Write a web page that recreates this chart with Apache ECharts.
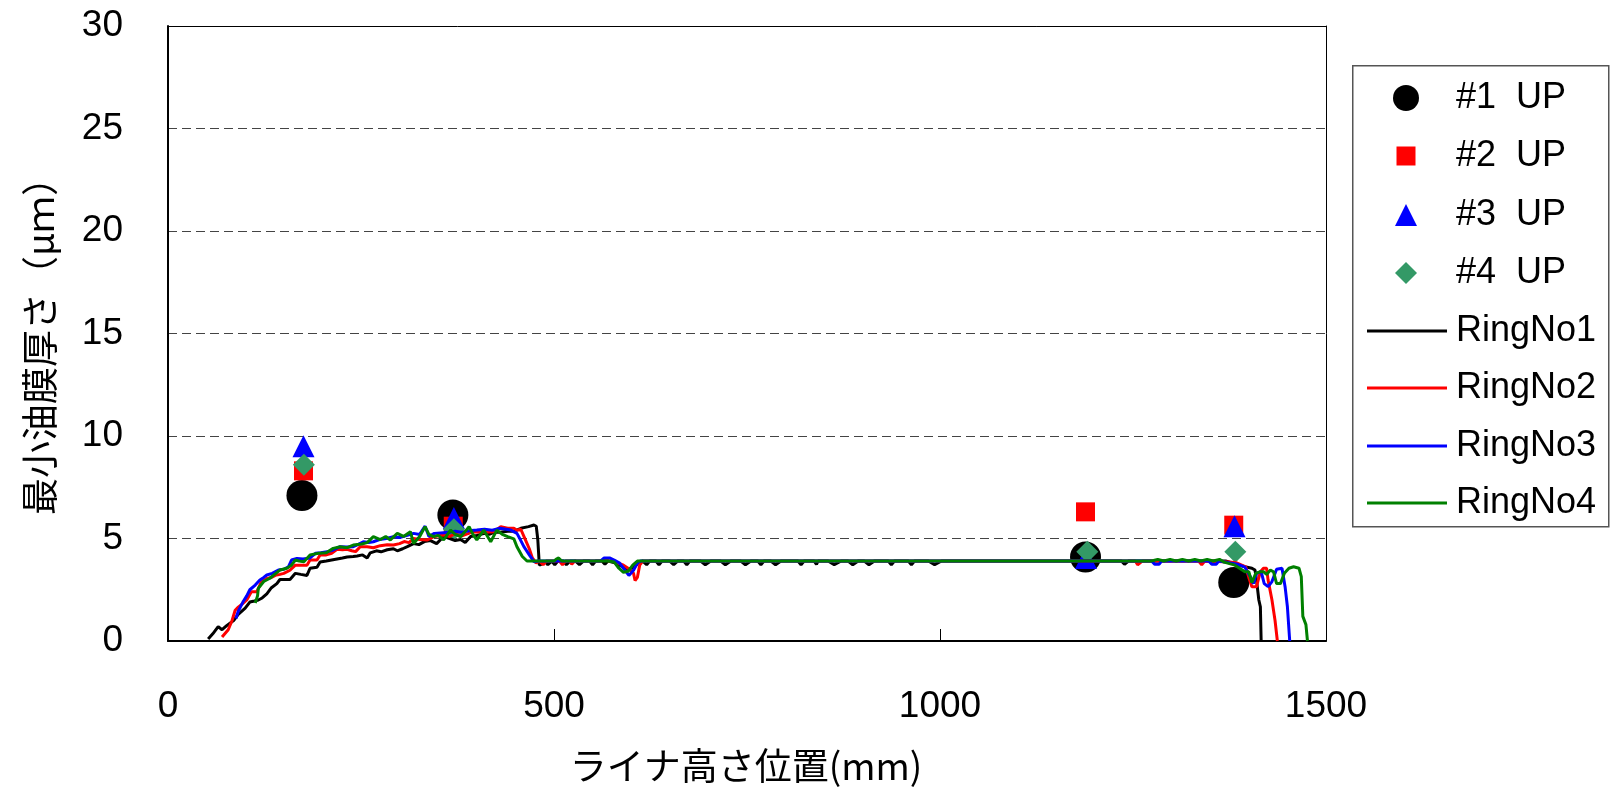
<!DOCTYPE html>
<html>
<head>
<meta charset="utf-8">
<script src="https://cdn.jsdelivr.net/npm/echarts@6/dist/echarts.min.js"></script>
<style>
  html, body { margin: 0; padding: 0; background: #fff; }
  #chart { width: 1610px; height: 788px; }
</style>
</head>
<body>
<div id="chart"></div>
<script>
// Axis ranges
const xRange = { min: 0, max: 1500, step: 500 };
const yRange = { min: 0, max: 30, step: 5 };

const xTitle = 'ライナ高さ位置(mm)';
const yTitle = '最小油膜厚さ（μｍ）';

// Measured points, liner height (mm) vs minimum film thickness (μm)
const up1 = [[173.5, 7.1], [369, 6.15], [1188.5, 4.1], [1380.5, 2.85]];
const up2 = [[175.5, 8.3], [369.5, 5.6], [1188.5, 6.3], [1380.5, 5.65]];
const up3 = [[175.5, 9.5], [370.3, 6.0], [1189, 4.05], [1381.5, 5.6]];
const up4 = [[176, 8.6], [370.3, 5.45], [1190.8, 4.35], [1382.5, 4.35]];

// Calculated traces per ring
const ring1 = [
  [52,0.1],[58,0.35],[65,0.7],[70,0.55],[76,0.75],[85,1.0],[91,1.3],[100,1.6],[106,1.9],[112,1.95],
  [117,2.0],[122,2.1],[128,2.3],[134,2.6],[141,2.8],[145,3.0],[152,3.0],[158,3.0],[165,3.3],[172,3.25],
  [180,3.2],[184,3.55],[193,3.6],[197,3.85],[205,3.9],[212,3.95],[219,4.0],[226,4.05],[232,4.1],[240,4.12],
  [245,4.15],[252,4.2],[258,4.05],[262,4.3],[270,4.4],[276,4.35],[284,4.45],[292,4.5],[297,4.4],[304,4.5],
  [310,4.6],[318,4.75],[325,4.7],[332,4.85],[340,4.9],[348,4.75],[357,5.1],[365,5.0],[372,4.9],[379,4.95],
  [385,4.8],[392,5.1],[400,5.15],[410,5.25],[416,5.2],[422,5.3],[430,5.3],[440,5.35],[448,5.35],[457,5.5],
  [467,5.58],[474,5.66],[477,5.6],[479,4.95],[481,3.7],
  [484,3.75],[488,3.9],[492,3.72],[497,3.9],[501,3.72],[505,3.9],[512,3.9],[516,3.72],[521,3.9],[528,3.9],
  [533,3.72],[538,3.9],[546,3.9],[550,3.72],[554,3.9],[562,3.9],[566,3.74],[570,3.9],[580,3.8],[590,3.6],
  [597,3.5],[604,3.6],[610,3.85],[615,3.9],[620,3.72],[624,3.9],[632,3.9],[636,3.72],[640,3.9],[650,3.9],
  [655,3.72],[660,3.9],[668,3.9],[672,3.72],[676,3.9],[690,3.9],[696,3.72],[703,3.9],[716,3.9],[722,3.72],
  [729,3.9],[742,3.9],[748,3.72],[755,3.9],[764,3.9],[768,3.72],[772,3.9],[781,3.9],[787,3.72],[794,3.9],
  [816,3.9],[820,3.72],[824,3.9],[837,3.9],[840,3.74],[842,3.9],[855,3.9],[863,3.72],[872,3.9],[881,3.9],
  [887,3.72],[894,3.9],[902,3.9],[908,3.72],[915,3.9],[933,3.9],[937,3.72],[941,3.9],[959,3.9],[963,3.72],
  [967,3.9],[985,3.9],[993,3.72],[1002,3.9],[1235,3.9],[1239,3.74],[1244,3.9],[1370,3.9],[1383,3.75],
  [1395,3.62],[1404,3.55],[1408,3.46],[1410,2.97],[1413,2.0],[1415,1.67],[1416,0]
];
const ring2 = [
  [70,0.2],[78,0.55],[83,1.0],[87,1.5],[91,1.65],[96,1.8],[102,2.0],[108,2.4],[115,2.4],[121,2.9],
  [128,3.05],[134,3.1],[139,3.2],[145,3.25],[150,3.3],[158,3.45],[165,3.7],[172,3.7],[180,3.7],[184,3.95],
  [193,3.95],[197,4.2],[205,4.2],[212,4.28],[219,4.47],[226,4.45],[232,4.47],[238,4.4],[243,4.36],[249,4.6],
  [258,4.6],[266,4.55],[275,4.65],[284,4.7],[292,4.68],[300,4.75],[306,4.85],[312,4.8],[318,5.0],[326,4.95],
  [336,4.93],[345,5.1],[357,5.17],[365,5.1],[372,5.25],[379,5.1],[386,5.2],[393,5.3],[400,5.33],[410,5.3],
  [422,5.33],[431,5.58],[440,5.5],[448,5.5],[452,5.4],[457,5.45],[463,4.93],[468,4.5],[472,4.05],[477,3.8],
  [481,3.9],[486,3.72],[490,3.9],[507,3.9],[511,3.72],[515,3.9],[520,3.9],[523,3.75],[527,3.9],[560,3.9],
  [566,3.95],[572,3.9],[580,3.85],[590,3.7],[598,3.5],[603,3.3],[605,2.95],[608,3.1],[611,3.7],[615,3.9],
  [1253,3.9],[1256,3.72],[1262,3.9],[1335,3.9],[1339,3.72],[1343,3.9],[1375,3.85],[1385,3.8],[1396,3.62],
  [1400,3.1],[1404,2.65],[1410,2.65],[1415,3.38],[1419,3.55],[1423,3.55],[1425,2.97],[1430,2.0],[1434,1.0],
  [1437,0]
];
const ring3 = [
  [88,1.1],[91,1.45],[97,1.9],[102,2.2],[106,2.5],[113,2.73],[119,2.98],[124,3.1],[128,3.22],[135,3.3],
  [143,3.46],[150,3.5],[156,3.62],[160,3.95],[167,4.03],[175,4.0],[184,4.05],[191,4.28],[198,4.3],[206,4.35],
  [214,4.44],[223,4.6],[232,4.58],[240,4.6],[246,4.7],[253,4.84],[260,4.8],[266,4.84],[274,4.95],[283,5.0],
  [292,5.09],[300,5.05],[310,5.15],[318,5.25],[326,5.2],[333,5.6],[338,5.1],[345,5.25],[357,5.28],[365,5.3],
  [372,5.35],[380,5.3],[390,5.38],[400,5.41],[410,5.45],[420,5.4],[430,5.5],[438,5.45],[444,5.41],[452,5.25],
  [457,4.9],[461,4.6],[468,4.2],[474,3.87],[480,3.9],[560,3.9],[565,4.05],[572,4.05],[578,3.95],[585,3.8],
  [592,3.45],[597,3.2],[603,3.45],[608,3.8],[612,3.9],[1274,3.9],[1278,3.75],[1284,3.75],[1287,3.9],
  [1348,3.9],[1352,3.75],[1358,3.75],[1361,3.9],[1385,3.75],[1395,3.6],[1402,3.14],[1406,2.8],[1410,3.3],
  [1416,3.38],[1420,2.8],[1425,2.65],[1430,2.9],[1436,3.5],[1443,3.55],[1447,2.65],[1450,1.67],[1453,0]
];
const ring4 = [
  [113,1.85],[116,2.2],[117,2.57],[124,2.9],[132,3.06],[138,3.25],[145,3.46],[154,3.55],[160,3.7],[165,3.95],
  [170,3.9],[176,3.87],[184,4.2],[195,4.28],[205,4.3],[214,4.52],[223,4.6],[232,4.55],[240,4.68],[251,4.73],
  [258,4.8],[266,5.09],[275,4.95],[282,5.1],[288,4.93],[297,5.25],[305,5.1],[314,5.33],[318,4.76],[326,5.1],
  [333,5.58],[338,5.2],[344,5.09],[350,5.15],[357,4.93],[366,5.41],[372,5.2],[379,5.09],[384,5.3],[390,5.58],
  [395,5.2],[400,4.93],[409,5.41],[418,4.84],[426,5.41],[433,5.2],[440,5.09],[448,4.98],[452,4.6],[459,4.12],
  [465,3.9],[500,3.9],[503,4.0],[506,4.05],[510,3.9],[570,3.9],[578,3.85],[584,3.55],[590,3.35],[596,3.4],
  [602,3.7],[608,3.9],[1274,3.9],[1282,3.98],[1290,3.9],[1298,3.98],[1306,3.9],[1314,3.98],[1322,3.9],
  [1330,3.98],[1338,3.9],[1346,3.98],[1354,3.9],[1362,3.98],[1368,3.85],[1382,3.7],[1395,3.38],[1400,3.38],
  [1404,2.85],[1409,3.3],[1415,3.38],[1419,3.38],[1423,3.25],[1428,3.46],[1432,3.38],[1436,2.8],[1441,2.8],
  [1446,3.3],[1452,3.55],[1458,3.62],[1465,3.55],[1468,3.14],[1470,1.2],[1474,0.8],[1476,0]
];

const NUM_FONT = "'Liberation Sans', Arial, sans-serif";
const CJK_FONT = "'Noto Sans CJK JP', sans-serif";

const lineDefs = [
  { name: 'RingNo1', data: ring1, color: '#000000' },
  { name: 'RingNo2', data: ring2, color: '#ff0000' },
  { name: 'RingNo3', data: ring3, color: '#0000ff' },
  { name: 'RingNo4', data: ring4, color: '#008000' }
];
const pointDefs = [
  { name: '#1 UP', data: up1, color: '#000000', symbol: 'circle', size: 31, legendSize: 26 },
  { name: '#2 UP', data: up2, color: '#ff0000', symbol: 'rect', size: 19, legendSize: 19 },
  { name: '#3 UP', data: up3, color: '#0000ff', symbol: 'triangle', size: 22, legendSize: 22 },
  { name: '#4 UP', data: up4, color: '#339966', symbol: 'diamond', size: 22, legendSize: 22 }
];

const series = [];
lineDefs.forEach(d => series.push({
  name: d.name, type: 'line', data: d.data, symbol: 'none', showSymbol: false,
  color: d.color, lineStyle: { width: 3, color: d.color }, clip: true
}));
pointDefs.forEach(d => series.push({
  name: d.name, type: 'scatter', data: d.data, symbol: d.symbol, symbolSize: d.size,
  itemStyle: { color: d.color, opacity: 1 }
}));

// Legend layout: one block per row so each marker keeps its own size
const rowY = [98, 156, 215, 273, 331, 388, 446, 503];
const markerCenterX = 1406;
const lineIconLeft = 1367;
const lineIconWidth = 80;
const legendTextX = 1456;
const legends = [];
pointDefs.forEach((d, i) => {
  const left = markerCenterX - d.legendSize / 2;
  legends.push({
    data: [{ name: d.name, icon: d.symbol }],
    left: left, top: rowY[i] - 18, padding: 0,
    itemWidth: d.legendSize, itemHeight: d.legendSize, selectedMode: false,
    itemStyle: { borderWidth: 0 },
    formatter: n => n.replace(' ', '  '),
    textStyle: { fontSize: 36, fontFamily: NUM_FONT, color: '#000',
      padding: [0, 0, 0, legendTextX - (left + d.legendSize + 5)] }
  });
});
lineDefs.forEach((d, i) => legends.push({
  data: [{ name: d.name, icon: 'path://M0,0H80V3H0Z' }],
  left: lineIconLeft, top: rowY[i + 4] - 18, padding: 0,
  itemWidth: lineIconWidth, itemHeight: 3, selectedMode: false,
  itemStyle: { borderWidth: 0 },
  textStyle: { fontSize: 36, fontFamily: NUM_FONT, color: '#000',
    padding: [0, 0, 0, legendTextX - (lineIconLeft + lineIconWidth + 5)] }
}));

const chart = echarts.init(document.getElementById('chart'), null, { renderer: 'canvas' });
chart.setOption({
  animation: false,
  backgroundColor: '#ffffff',
  grid: { left: 168, top: 26, right: 284, bottom: 147, containLabel: false },
  xAxis: [{
    type: 'value', min: xRange.min, max: xRange.max, interval: xRange.step,
    axisLine: { show: true, onZero: false, lineStyle: { color: '#000', width: 2 } },
    axisTick: { show: true, inside: true, length: 12, lineStyle: { color: '#000', width: 1 } },
    axisLabel: { fontSize: 37, fontFamily: NUM_FONT, color: '#000', margin: 47, formatter: v => String(v) },
    splitLine: { show: false }
  }, {
    type: 'value', position: 'top', min: xRange.min, max: xRange.max, interval: xRange.step,
    axisLine: { show: true, onZero: false, lineStyle: { color: '#000', width: 1 } },
    axisTick: { show: false }, axisLabel: { show: false }, splitLine: { show: false }
  }],
  yAxis: [{
    type: 'value', min: yRange.min, max: yRange.max, interval: yRange.step,
    axisLine: { show: true, onZero: false, lineStyle: { color: '#000', width: 2 } },
    axisTick: { show: false },
    axisLabel: { fontSize: 37, fontFamily: NUM_FONT, color: '#000', margin: 45, formatter: v => String(v) },
    splitLine: { show: true, lineStyle: { color: '#444', width: 1, type: [9, 5] } }
  }, {
    type: 'value', position: 'right', min: yRange.min, max: yRange.max, interval: yRange.step,
    axisLine: { show: true, onZero: false, lineStyle: { color: '#000', width: 1 } },
    axisTick: { show: false }, axisLabel: { show: false }, splitLine: { show: false }
  }],
  legend: legends,
  graphic: [
    {
      type: 'rect', left: 1352, top: 65, z: 0,
      shape: { width: 256, height: 461 },
      style: { fill: '#fff', stroke: '#555', lineWidth: 1.5 }
    },
    {
      type: 'text', x: 746, y: 766, z: 10,
      style: { text: xTitle, font: '37px ' + CJK_FONT, fill: '#000', align: 'center', verticalAlign: 'middle' }
    },
    {
      type: 'text', x: 40, y: 337, rotation: Math.PI / 2, z: 10,
      style: { text: yTitle, font: '37px ' + CJK_FONT, fill: '#000', align: 'center', verticalAlign: 'middle' }
    }
  ],
  series: series
});
</script>
</body>
</html>
